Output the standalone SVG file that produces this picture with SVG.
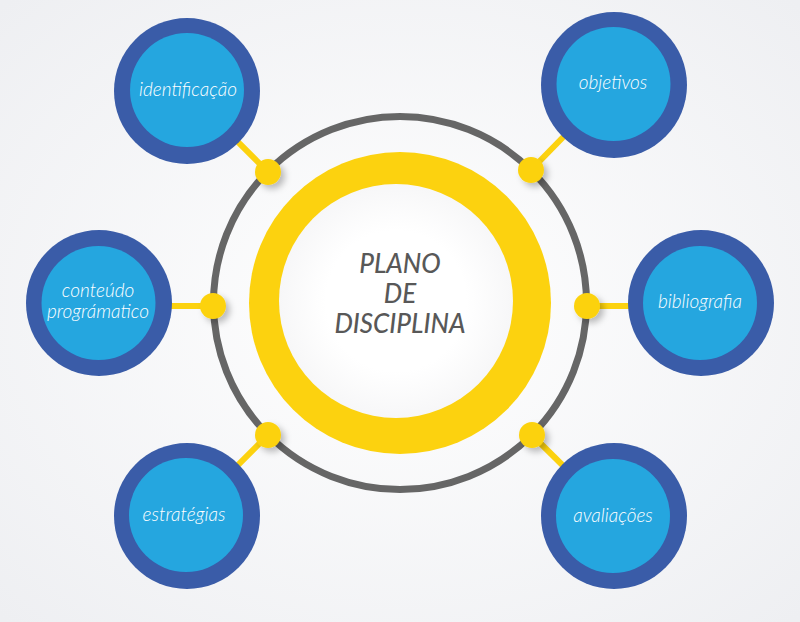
<svg xmlns="http://www.w3.org/2000/svg" width="800" height="622" viewBox="0 0 800 622">
<defs>
<radialGradient id="bg" cx="50%" cy="50%" r="70%">
<stop offset="0" stop-color="#ffffff"/>
<stop offset="1" stop-color="#eeeff2"/>
</radialGradient>
<radialGradient id="inner" cx="50%" cy="50%" r="50%">
<stop offset="0.6" stop-color="#ffffff"/>
<stop offset="1" stop-color="#f7f7f8"/>
</radialGradient>
<filter id="sh" x="-50%" y="-50%" width="200%" height="200%">
<feDropShadow dx="4" dy="4" stdDeviation="3" flood-color="#000" flood-opacity="0.25"/>
</filter>
</defs>
<style>
.outer{fill:#3a5ca8}
.inner{fill:#25a6df}
.lbl{font-family:Lato,"Liberation Sans",sans-serif;font-style:italic;font-weight:300;font-size:19px;fill:#ffffff;text-anchor:middle}
.conn{stroke:#fcd20f;stroke-width:6;fill:none}
.dot{fill:#fcd20f;filter:url(#sh)}
.title{font-family:Lato,"Liberation Sans",sans-serif;font-style:italic;font-weight:500;font-size:26px;fill:#585858;text-anchor:middle}
</style>
<rect width="800" height="622" fill="url(#bg)"/>
<g id="center">
<circle cx="400" cy="303" r="186.5" fill="none" stroke="#666666" stroke-width="7"/>
<circle cx="400" cy="303" r="151" fill="#fcd20f"/>
<circle cx="396" cy="301" r="117" fill="url(#inner)"/>
<text class="title" x="400" y="273">PLANO</text>
<text class="title" x="400" y="303">DE</text>
<text class="title" x="400" y="333">DISCIPLINA</text>
</g>
<g id="connectors">
<line class="conn" x1="187" y1="91" x2="268" y2="172"/>
<line class="conn" x1="614" y1="85" x2="531" y2="170"/>
<line class="conn" x1="99" y1="306" x2="213" y2="306"/>
<line class="conn" x1="701" y1="306" x2="587" y2="306"/>
<line class="conn" x1="187" y1="516" x2="268" y2="435"/>
<line class="conn" x1="614" y1="516" x2="532" y2="435"/>
<circle class="dot" cx="268" cy="172" r="13"/>
<circle class="dot" cx="531" cy="170" r="13"/>
<circle class="dot" cx="213" cy="306" r="13"/>
<circle class="dot" cx="587" cy="306" r="13"/>
<circle class="dot" cx="268" cy="435" r="13"/>
<circle class="dot" cx="532" cy="435" r="13"/>
</g>
<g id="identificacao">
<circle class="outer" cx="187" cy="91" r="73"/>
<circle class="inner" cx="187" cy="90" r="57"/>
<text class="lbl" x="188" y="96">identificação</text>
</g>
<g id="objetivos">
<circle class="outer" cx="614" cy="85" r="73"/>
<circle class="inner" cx="613.5" cy="84" r="57"/>
<text class="lbl" x="613" y="89">objetivos</text>
</g>
<g id="conteudo">
<circle class="outer" cx="99" cy="303" r="73"/>
<circle class="inner" cx="98.5" cy="303" r="57"/>
<text class="lbl" x="98" y="297">conteúdo</text>
<text class="lbl" x="98" y="318">prográmatico</text>
</g>
<g id="bibliografia">
<circle class="outer" cx="701" cy="303" r="73"/>
<circle class="inner" cx="700" cy="303" r="57"/>
<text class="lbl" x="700" y="308">bibliografia</text>
</g>
<g id="estrategias">
<circle class="outer" cx="187" cy="516" r="73"/>
<circle class="inner" cx="186" cy="515" r="57"/>
<text class="lbl" x="184" y="521">estratégias</text>
</g>
<g id="avaliacoes">
<circle class="outer" cx="614" cy="516" r="73"/>
<circle class="inner" cx="613" cy="516" r="57"/>
<text class="lbl" x="613" y="522">avaliações</text>
</g>
</svg>
